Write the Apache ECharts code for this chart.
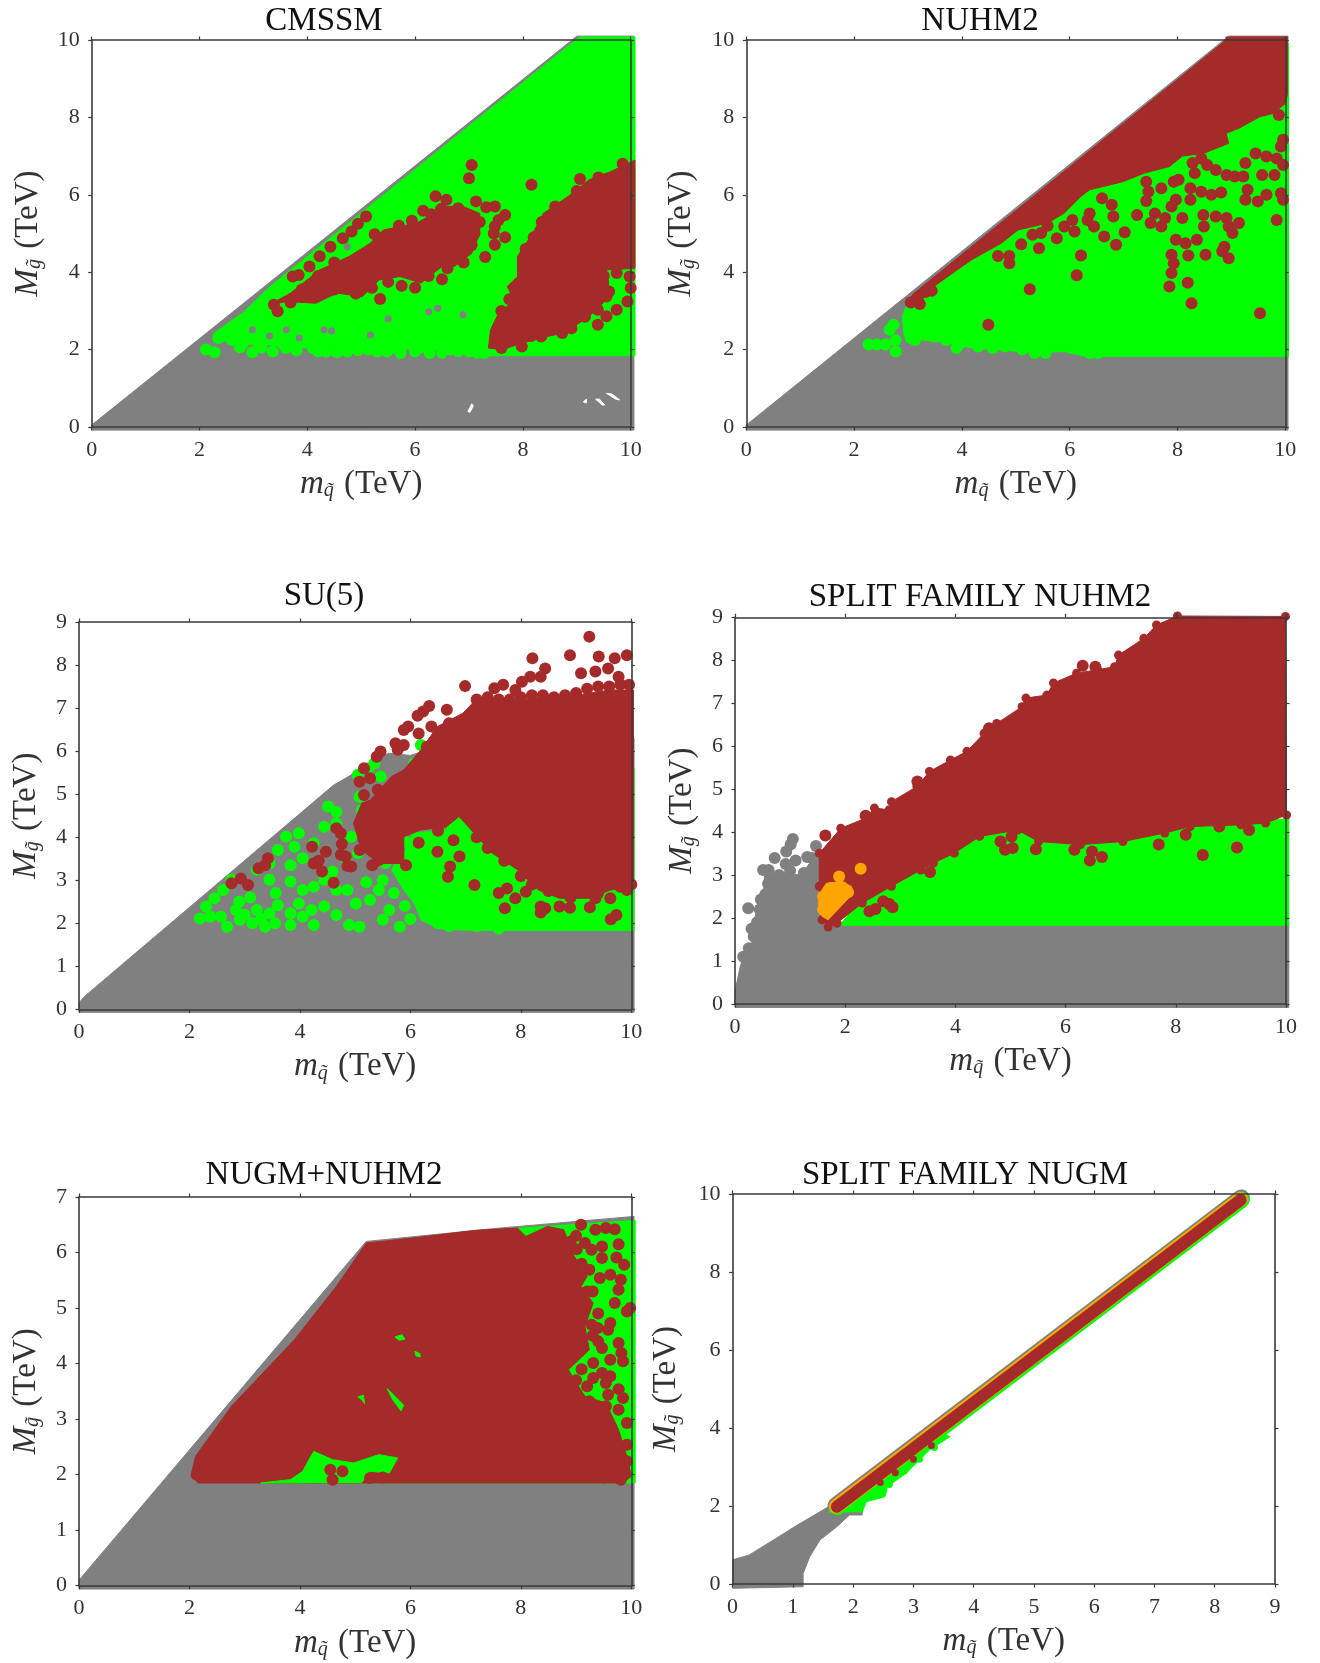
<!DOCTYPE html>
<html><head><meta charset="utf-8">
<style>html,body{margin:0;padding:0;background:#fff}#c{width:1320px;height:1663px}</style>
<script src="https://cdn.jsdelivr.net/npm/echarts@6/dist/echarts.min.js"></script></head>
<body><div id="c"></div>
<script>
const GRAY='#808080',GREEN='#00ff00',BROWN='#a52a2a',ORANGE='#ffa500',WHITE='#ffffff';
const titles=['CMSSM','NUHM2','SU(5)','SPLIT FAMILY NUHM2','NUGM+NUHM2','SPLIT FAMILY NUGM'];

// ---- CMSSM ----
const cmssmGray=[[0,-0.08],[0,0.05],[9,10.1],[10.06,10.1],[10.06,-0.08]];
const cmssmGreen=[[9.05,10.08],[10.08,10.08],[10.08,1.84],[7.3,1.84],[7,1.92],[6.5,1.98],[6,2],[5,2],[4.6,2.02],[3.7,2.05],[3.3,2.12],[2.75,2.15],[2.4,2.25],[2.25,2.4],[2.83,2.98],[3.3,3.62]];
const cmssmGreenDots=[[2.12,2],[2.28,1.93],[2.75,2.06],[2.98,1.93],[3.36,1.95],[3.6,2.04],[4.1,2.04],[4.35,1.95],[4.55,1.93],[4.74,1.95],[4.94,1.98],[5.13,2],[5.48,1.95],[5.73,1.91],[6.27,1.91],[6.8,1.95],[7.28,1.91],[2.4,2.35],[2.65,2.6],[3.1,2.15],[2.9,2.35],[2.35,2.3],[2.6,2.25],[2.8,2.15],[3.15,2.05],[3.55,2.15],[3.8,1.98],[4.2,1.95],[4.9,2.1],[5.3,1.95],[5.6,2.05],[6,1.95],[6.1,2.05],[6.5,1.92],[6.65,2],[7,1.95],[7.15,1.92]];
const cmssmGrayFlecks=[[4.31,2.51],[4.45,2.48],[6.42,3.07],[6.25,2.98],[5.17,2.38],[6.89,2.9],[4.74,4.66],[2.98,2.51],[3.61,2.51],[3.3,2.35],[5.5,2.8],[3.85,2.3]];
const cmssmBrownLeft=[[3.3,3.16],[3.69,3.46],[4.23,4.06],[4.78,4.41],[5.17,4.75],[5.41,5.09],[6.03,5.27],[6.58,5.7],[6.89,5.7],[7.2,5.52],[7.2,5],[7.05,4.49],[6.73,4.15],[6.5,4.15],[6.11,3.72],[5.72,3.89],[5.33,3.8],[5.02,3.37],[4.55,3.46],[4.16,3.2],[3.61,3.24]];
const cmssmBrownRight=[[10.08,6.9],[9.63,6.6],[9.23,6.39],[8.84,5.96],[8.38,5.52],[8.18,5],[7.9,4.41],[7.9,3.89],[7.71,3.63],[7.83,3.29],[7.52,2.86],[7.4,2.51],[7.36,2.04],[7.63,2],[7.98,2.17],[8.45,2.34],[8.77,2.43],[9.23,2.86],[9.55,3.29],[9.59,3.72],[9.55,4.06],[10.08,4.1]];
const cmssmBrownDots=[[7.05,6.77],[7,6.43],[6.38,5.96],[6.58,5.87],[6.15,5.59],[6.48,5.63],[6.33,5.4],[5.94,5.33],[5.09,5.44],[4.94,5.25],[4.82,5.05],[4.66,4.88],[5.25,4.98],[4.43,4.66],[4.23,4.41],[4.04,4.15],[3.84,3.93],[3.73,3.89],[3.38,3.16],[3.45,2.99],[3.69,3.22],[5.35,3.31],[6.5,3.82],[7.3,4.39],[7.48,4.71],[7.67,4.9],[7.46,5],[7.48,5.18],[7.55,5.35],[7.67,5.48],[7.48,5.7],[7.32,5.68],[7.13,5.83],[8.16,6.26],[9.06,6.41],[7.98,2.08],[7.6,2.04],[9.39,2.64],[9.74,3.03],[9.94,3.24],[10,3.59],[9.55,3.37],[8.73,2.43],[8.34,2.34],[9.55,2.86],[9.39,3.03],[9.74,3.98],[9.98,3.89],[9.85,6.8],[9.4,6.45],[9,6.1],[8.6,5.7],[8.35,5.3],[8.2,4.9],[8.05,4.6],[7.75,3.3],[7.6,3],[7.7,2.6],[7.55,2.3],[8.15,2.35],[8.45,2.5],[8.9,2.55],[9.15,2.85],[9.35,3.2],[9.6,3.5],[9.5,3.9],[9.7,4.2],[4.5,3.55],[4.9,3.45],[5.2,3.6],[5.5,3.75],[5.75,3.65],[6,3.6],[6.25,3.9],[6.6,4.1],[6.9,4.25],[7.05,4.7],[7.1,5],[7.2,5.3],[5.7,5.2],[6.3,5.5],[6.8,5.65],[3.9,3.55],[4.2,3.9],[4.5,4.25]];
const cmssmHoleA=[[6.98,0.4],[7.05,0.6],[7.08,0.55],[7.02,0.38]];
const cmssmHoleB=[[9.55,0.87],[9.72,0.72],[9.8,0.7],[9.65,0.85]];
const cmssmHoleC=[[9.35,0.72],[9.47,0.57],[9.52,0.57],[9.42,0.72]];
const cmssmHoleD=[[9.12,0.65],[9.18,0.72],[9.18,0.62]];

// ---- NUHM2 ----
const nuhmGray=[[0,-0.08],[0,0.05],[8.95,10.1],[10.05,10.1],[10.05,-0.08]];
const nuhmGreen=[[3,3.24],[8.9,9.9],[10.06,9.9],[10.06,1.82],[6.3,1.82],[5.9,1.95],[5.3,1.92],[4.65,2],[4.18,2.04],[3.79,2.17],[3.24,2.25],[2.93,2.34],[2.89,2.86]];
const nuhmGreenDots=[[2.27,2.13],[2.42,2.13],[2.58,2.13],[2.77,1.95],[2.77,2.25],[2.66,2.51],[2.73,2.64],[3.05,2.3],[3.13,2.25],[3.32,2.38],[3.48,2.34],[3.71,2.25],[3.9,2.04],[3.98,2.17],[4.3,2.08],[4.57,2.04],[4.8,2.08],[5.12,2],[5.35,1.91],[5.55,1.91],[6.02,2.04],[6.37,1.91],[6.52,1.91]];
const nuhmBrown=[[8.9,10.08],[10.04,10.08],[10.04,8.6],[10,8.36],[9.77,8.1],[9.53,8.02],[9.14,7.72],[8.9,7.59],[8.95,7.33],[8.48,7.07],[8.09,7],[7.85,6.73],[7.38,6.56],[6.99,6.34],[6.37,6.13],[6.21,5.96],[5.9,5.53],[5.59,5.27],[5.04,5.09],[4.73,4.75],[4.18,4.32],[3.87,4.02],[3.48,3.63],[3.24,3.46],[3,3.24],[3.1,3.44],[8.9,10]];
const nuhmBrownDots=[[3.05,3.22],[3.18,3.33],[3.22,3.18],[3.32,3.49],[3.44,3.52],[4.67,4.42],[4.88,4.42],[4.88,4.23],[5.1,4.72],[5.26,3.56],[4.49,2.64],[6.21,4.43],[6.13,3.92],[5.76,4.88],[5.43,4.62],[5.31,4.97],[5.47,5.01],[5.59,5.2],[5.9,5.18],[6.05,5.35],[6.09,5.05],[6.45,5.18],[6.37,5.52],[6.33,5.35],[6.64,4.92],[6.81,5.44],[6.86,4.71],[7.02,5.03],[6.78,5.74],[6.6,5.91],[7.25,5.48],[7.5,5.27],[7.58,5.52],[7.42,5.84],[7.46,6.08],[7.42,6.34],[7.7,6.17],[7.89,5.7],[7.7,5.18],[7.77,5.4],[7.97,5.87],[8.24,5.87],[8.09,5.4],[7.97,4.84],[8.15,4.75],[8.36,4.84],[8.49,5.18],[8.48,5.48],[8.71,5.44],[8.81,6.06],[8.63,6],[8.44,6.08],[8.24,6.17],[7.93,6.34],[8.02,6.39],[8.32,6.56],[8.44,6.94],[8.28,6.82],[8.55,6.77],[8.71,6.64],[8.91,6.51],[9.06,6.47],[9.22,6.47],[9.26,6.82],[9.45,7.07],[9.65,6.99],[9.84,6.94],[9.96,6.77],[9.8,6.51],[9.57,6.51],[9.3,6.13],[9.26,5.87],[9.49,5.83],[9.65,6],[9.92,6.04],[9.96,5.87],[9.84,5.35],[8.91,5.4],[8.95,5.18],[9.14,5.27],[9.02,5.01],[8.87,4.66],[8.83,4.54],[8.95,4.36],[8.52,4.45],[8.2,4.43],[7.89,4.45],[7.93,4.23],[7.89,3.98],[7.85,3.63],[8.19,3.73],[8.26,3.2],[9.53,2.94],[9.88,8.06],[9.92,7.25],[9.96,7.42]];

// ---- SU(5) ----
const su5Gray=[[0,-0.07],[0,0.15],[0.1,0.3],[4.6,5.2],[5,5.5],[5.6,5.95],[6,5.9],[7,6.3],[10.05,6.3],[10.05,-0.07]];
const su5Green=[[10.05,1.83],[7.6,1.83],[6.95,1.84],[6.49,1.88],[6.19,2.08],[6.07,2.46],[5.88,2.77],[5.66,3.24],[5.88,3.63],[6.04,4.09],[6.65,4.17],[6.8,4.63],[7.1,4.55],[8,5],[10.05,5.6]];
const su5GreenDots=[[2.19,2.11],[2.38,2.15],[2.3,2.39],[2.45,2.58],[2.61,2.77],[2.76,3.01],[2.68,1.92],[2.57,2.15],[2.84,2.31],[2.91,2.08],[3.14,2],[3.37,1.92],[3.22,2.31],[3.45,2.23],[3.6,2.42],[3.83,1.96],[4.05,2.15],[4.25,1.96],[3.83,2.23],[3.98,2.46],[4.21,2.31],[4.44,2.39],[4.66,2.19],[4.89,1.96],[5.08,1.92],[5.01,2.46],[5.27,2.54],[5.5,2.08],[5.62,2.31],[5.81,1.92],[5.43,2.77],[3.56,2.7],[3.45,3.01],[3.22,3.24],[3.45,3.39],[3.6,3.7],[3.75,4.01],[3.98,4.09],[3.9,3.78],[3.83,3.35],[3.83,2.97],[4.05,2.77],[4.25,2.85],[4.44,3.01],[4.66,2.77],[4.86,2.77],[4.05,3.51],[4.25,3.86],[4.44,4.24],[4.51,4.71],[4.66,4.59],[4.66,4.32],[4.93,4.01],[5.05,3.63],[4.86,3.39],[4.59,3.2],[5.12,4.63],[5.08,4.94],[5.05,5.45],[5.24,5.6],[5.35,5.72],[5.46,5.41],[6.19,6.14],[6.07,5.72],[5.66,4.17],[2.9,2.5],[3.1,2.6],[3.3,2.1],[3,2.2],[3.55,2],[5.5,3],[5.7,2.7],[5.9,2.4],[6,2.1],[6.1,2.8],[5.8,3.3],[5.9,3.9],[6.3,2.2],[6.5,2],[6.7,1.93],[7.2,1.93],[7.6,1.88],[5.55,3.4],[5.2,2.95]];
const su5Brown=[[5.88,5.56],[6.19,6.03],[6.49,6.57],[6.95,6.88],[7.18,7.19],[7.94,7.19],[8.86,7.27],[9.62,7.42],[10.04,7.42],[10.04,2.85],[9.62,2.77],[9.24,2.58],[8.7,2.58],[8.32,2.77],[7.94,3.24],[7.48,3.63],[7.1,4.17],[6.88,4.48],[6.65,4.24],[6.19,4.17],[5.88,4.01],[5.88,3.39],[5.43,3.39],[5.12,3.7],[4.97,4.32],[5.12,4.79],[5.27,4.86],[5.66,5.41]];
const su5BrownDots=[[9.24,8.66],[8.21,8.16],[8.89,8.23],[9.41,8.2],[9.92,8.23],[9.7,8.16],[9.58,7.92],[9.35,7.85],[9.09,7.81],[8.44,7.92],[8.36,7.73],[8.17,7.73],[8.02,7.61],[7.9,7.42],[7.68,7.54],[7.52,7.46],[6.99,7.51],[9.77,7.73],[9.96,7.54],[6.34,7.05],[6.23,6.92],[6.13,6.82],[6.66,6.96],[6.38,6.57],[5.96,6.57],[5.88,6.49],[6.15,6.41],[5.73,6.18],[5.88,6.14],[5.77,6.03],[5.39,5.87],[5.46,5.99],[5.16,5.6],[5.08,5.29],[5.27,5.37],[5.41,5.1],[5.16,4.98],[2.76,2.93],[2.93,3.04],[3.06,2.89],[3.25,3.28],[3.37,3.35],[3.42,3.51],[4.22,3.78],[4.25,3.39],[4.34,3.45],[4.4,3.2],[4.61,2.94],[4.47,3.66],[4.66,4.21],[4.74,4.09],[4.76,3.84],[4.74,3.59],[4.83,3.55],[4.86,3.33],[4.93,3.32],[5.08,3.7],[5.31,3.35],[5.43,3.47],[5.92,3.35],[6.15,3.87],[6.49,3.66],[6.78,3.93],[6.72,3.32],[6.68,3.08],[6.89,3.55],[7.16,2.89],[7.6,2.7],[7.75,2.81],[8.09,2.73],[7.9,2.58],[7.71,2.35],[8.36,2.39],[8.44,2.35],[8.36,2.25],[8.7,2.39],[8.89,2.36],[9.25,2.37],[9.35,2.58],[9.62,2.58],[9.73,2.19],[9.63,2.09],[9.92,2.77],[7.2,7.2],[7.4,7.25],[7.6,7.2],[7.8,7.2],[8,7.25],[8.2,7.3],[8.4,7.3],[8.6,7.25],[8.8,7.3],[9,7.35],[9.2,7.45],[9.4,7.5],[9.6,7.5],[9.8,7.55],[6.7,6.65],[6.5,6.4],[6.3,6.1],[5.3,4.6],[5.5,4.3],[5.2,4.2],[5.15,3.95],[5.45,3.65],[5.7,3.55],[5.75,3.85],[6.15,4.3],[6.5,4.15],[7.2,4],[7.4,3.75],[7.7,3.45],[8,3.1],[8.2,2.9],[8.5,2.75],[8.9,2.6],[9.4,2.7],[9.8,2.85],[10,2.9]];

// ---- SPLIT FAMILY NUHM2 ----
const splitGray=[[0,-0.08],[0,0.3],[0.1,0.9],[0.17,1.15],[0.3,1.35],[0.33,1.85],[0.42,2.3],[0.5,2.6],[0.58,2.95],[0.9,3.05],[1.2,3],[1.45,3.45],[1.6,3.5],[1.6,1.9],[10.05,1.9],[10.05,-0.08]];
const splitGrayDots=[[0.24,2.23],[0.34,1.57],[0.51,3.12],[0.61,3.12],[0.72,3.4],[0.92,3.26],[0.93,3.55],[1.01,3.71],[1.05,3.84],[1.1,3.34],[1.31,3.42],[1.47,3.68],[0.47,2.43],[0.63,2.93],[0.15,1.1],[0.25,1.3],[0.3,1.75],[0.4,1.9],[0.45,2.2],[0.55,2.55],[0.6,2.8],[0.8,3],[1,3.1],[1.25,3.05],[1.4,3.4]];
const splitGreen=[[1.9,1.83],[10.05,1.83],[10.05,4.3],[4.5,4.3],[3,2.9],[2.2,2.3]];
const splitBrown=[[1.53,3.51],[1.92,4.09],[2.38,4.33],[2.53,4.56],[2.8,4.52],[2.84,4.71],[3.3,5.06],[3.53,5.41],[3.91,5.68],[4.21,5.88],[4.52,6.3],[4.75,6.53],[5.21,6.92],[5.28,7.12],[5.66,7.19],[5.78,7.47],[6.2,7.7],[6.58,7.78],[6.89,7.85],[6.96,8.12],[7.42,8.51],[7.65,8.82],[8.03,9.03],[9.99,9.02],[10.01,4.4],[9.63,4.21],[9.18,4.17],[8.26,4.13],[7.8,3.98],[7.04,3.78],[6.27,3.71],[5.51,3.78],[5.13,4.05],[4.44,3.9],[3.98,3.51],[3.6,3.28],[3.37,3.12],[2.84,2.74],[2.31,2.35],[1.85,1.88],[1.69,1.79],[1.58,1.96],[1.53,2.74]];
const splitBrownDots=[[1.64,3.92],[2.37,4.38],[6.31,7.87],[6.54,7.85],[3.31,5.18],[4.61,6.42],[3.54,3.07],[2.44,2.16],[2.55,2.21],[2.69,2.39],[2.8,2.33],[2.86,2.25],[4.82,3.78],[4.9,3.59],[5.04,3.63],[5.02,3.9],[5.46,3.6],[6.16,3.59],[6.48,3.55],[6.44,3.34],[6.66,3.42],[7.69,3.71],[8.49,3.47],[9.11,3.64],[8.79,4.13],[9.33,4.05],[8.18,3.94]];
const splitOrange=[[1.58,2.04],[1.51,2.35],[1.58,2.66],[1.66,2.81],[1.92,2.85],[2.11,2.74],[2.15,2.58],[1.92,2.27],[1.69,1.96]];
const splitOrangeDots=[[2.28,3.15],[1.89,2.97],[1.6,2.2],[1.6,2.5],[1.75,2.7],[1.95,2.72],[2.05,2.6]];

// ---- NUGM+NUHM2 ----
const nugmGray=[[0,-0.06],[0,0.1],[5.2,6.2],[7.5,6.43],[10.05,6.65],[10.05,-0.06]];
const nugmGreen=[[3.3,1.85],[10.07,1.85],[10.07,6.58],[8,6.44],[6,6.2]];
const nugmBrown=[[2.15,1.85],[2.04,2.03],[2.11,2.33],[2.76,3.23],[3.9,4.43],[4.66,5.39],[5.2,6.17],[6.04,6.26],[7.18,6.4],[7.94,6.44],[8.09,6.29],[8.48,6.47],[8.78,6.41],[8.93,5.99],[9.2,5.57],[9.09,5.39],[9.31,5.09],[9.16,4.67],[9.24,4.25],[8.86,3.89],[9.16,3.41],[9.54,3.29],[9.77,2.81],[9.92,2.33],[10,1.97],[9.85,1.85]];
const nugmPatchLow=[[3.29,1.85],[3.83,1.91],[4.05,2.06],[4.25,2.42],[4.59,2.27],[4.97,2.21],[5.43,2.36],[5.77,2.3],[5.62,2.03],[5.27,2.06],[5.12,1.86]];
const nugmPatchA=[[5.72,4.48],[5.85,4.52],[5.9,4.44],[5.8,4.42]];
const nugmPatchB=[[6.08,4.22],[6.17,4.18],[6.18,4.12],[6.1,4.14]];
const nugmPatchC=[[5.58,3.55],[5.88,3.25],[5.83,3.15],[5.68,3.35]];
const nugmPatchD=[[5.05,3.4],[5.15,3.43],[5.17,3.28],[5.12,3.35]];
const nugmPatchE=[[9.05,4],[9.2,4.02],[9.25,3.65],[9.1,3.7]];
const nugmBrownDots=[[2.13,2],[2.2,2.2],[4.55,2.09],[4.59,1.91],[4.77,2.06],[5.27,1.94],[5.5,1.95],[9.09,6.5],[9.35,6.41],[9.54,6.44],[9.7,6.42],[9.01,6.06],[9.16,6.17],[9.28,6.05],[9.47,6.11],[9.77,6.15],[9.47,5.9],[9.73,5.91],[9.87,5.78],[9.24,5.69],[9.43,5.54],[9.62,5.6],[9.81,5.51],[9.77,5.33],[9.7,5.09],[9.92,4.94],[9.98,5],[9.28,4.7],[9.39,4.64],[9.62,4.73],[9.58,4.61],[9.77,4.37],[9.82,4.19],[9.47,4.28],[9.62,4.07],[9.85,4.04],[9.31,4.01],[9.47,3.83],[9.62,3.77],[9.54,3.65],[9.77,3.54],[9.31,3.74],[9.2,3.59],[9.58,3.44],[9.85,3.38],[9.24,3.32],[9.54,3.23],[9.77,3.17],[9.92,2.93],[9.62,2.87],[9.92,2.54],[9.92,2.24],[9.01,3.17],[9.81,1.91],[9,6.3],[8.9,6.2],[9.1,5.8],[9.2,5.3],[9.3,5.3],[9.4,4.9],[9.3,4.5],[9.4,4.4],[9.1,3.9],[9,3.7],[9.3,3.2],[9.5,3],[9.6,2.6],[9.75,2.5],[9.7,2.1],[9.5,1.95],[9.85,2]];

// ---- SPLIT FAMILY NUGM ----
const sfnGray=[[0,0.62],[0.27,0.74],[0.68,1.13],[1.03,1.47],[1.59,1.98],[2.15,2.3],[2.15,1.77],[1.94,1.77],[1.73,1.47],[1.45,1.13],[1.28,0.7],[1.17,0.27],[1.17,-0.07],[0,-0.11]];
const sfnGrayBand=[[1.72,2.01],[8.44,9.89]];
const sfnGreenBand=[[1.74,1.97],[8.44,9.85]];
const sfnOrangeBand=[[1.72,1.99],[8.43,9.87]];
const sfnBrownBand=[[1.73,1.98],[8.43,9.85]];
const sfnGreenBulge=[[1.59,1.85],[2.15,1.85],[2.22,2.11],[2.53,2.24],[2.57,2.5],[2.88,2.84],[3.27,3.44],[3.61,3.78],[3.4,3.9],[2,2.4]];
const sfnGreenFlecks=[[2.3,2.35],[2.6,2.55],[2.85,2.9],[3.1,3.2],[3.35,3.5]];
const sfnBrownFlecks=[[2.45,2.6],[2.7,2.85],[3,3.2],[3.3,3.55]];

const panels=[
 {xMax:10,xStep:2,yMax:10,yStep:2,grid:[91.7,40,539,387],yGap:47,
  layers:[['p',cmssmGray,GRAY],['p',cmssmHoleA,WHITE],['p',cmssmHoleB,WHITE],['p',cmssmHoleC,WHITE],['p',cmssmHoleD,WHITE],['p',cmssmGreen,GREEN],['d',cmssmGreenDots,GREEN],['f',cmssmGrayFlecks,GRAY],['p',cmssmBrownLeft,BROWN],['p',cmssmBrownRight,BROWN],['d',cmssmBrownDots,BROWN]]},
 {xMax:10,xStep:2,yMax:10,yStep:2,grid:[746.3,40,539,387],yGap:48,
  layers:[['p',nuhmGray,GRAY],['p',nuhmGreen,GREEN],['d',nuhmGreenDots,GREEN],['p',nuhmBrown,BROWN],['d',nuhmBrownDots,BROWN]]},
 {xMax:10,xStep:2,yMax:9,yStep:1,grid:[79,622,552.3,387.3],yGap:36,
  layers:[['p',su5Gray,GRAY],['p',su5Green,GREEN],['d',su5GreenDots,GREEN],['p',su5Brown,BROWN],['d',su5BrownDots,BROWN]]},
 {xMax:10,xStep:2,yMax:9,yStep:1,grid:[735,617.3,551,386.7],yGap:36,
  layers:[['p',splitGray,GRAY],['d',splitGrayDots,GRAY],['p',splitGreen,GREEN],['p',splitBrown,BROWN],['pv',splitBrown,BROWN],['d',splitBrownDots,BROWN],['p',splitOrange,ORANGE],['d',splitOrangeDots,ORANGE]]},
 {xMax:10,xStep:2,yMax:7,yStep:1,grid:[79,1197,552.3,388.7],yGap:36,
  layers:[['p',nugmGray,GRAY],['p',nugmGreen,GREEN],['p',nugmBrown,BROWN],['p',nugmPatchLow,GREEN],['p',nugmPatchA,GREEN],['p',nugmPatchB,GREEN],['p',nugmPatchC,GREEN],['p',nugmPatchD,GREEN],['p',nugmPatchE,GREEN],['d',nugmBrownDots,BROWN]]},
 {xMax:9,xStep:1,yMax:10,yStep:2,grid:[732.6,1194,542.4,390],yGap:50,
  layers:[['p',sfnGray,GRAY],['l',sfnGrayBand,GRAY,17.5],['p',sfnGreenBulge,GREEN],['f',sfnGreenFlecks,GREEN],['l',sfnGreenBand,GREEN,16.5],['l',sfnOrangeBand,ORANGE,14.5],['l',sfnBrownBand,BROWN,12],['f',sfnBrownFlecks,BROWN]]}
];
const titlePos=[[324,21],[980,21],[324,596],[980,597],[324,1175],[965,1175]];

const FONT='Liberation Serif',INK='#333333',AX='#3a3a3a';
const nameStyle={color:INK,fontFamily:FONT,fontSize:33,rich:{
  i:{fontFamily:FONT,fontSize:33,fontStyle:'italic',color:INK},
  s:{fontFamily:FONT,fontSize:20,fontStyle:'italic',color:INK,verticalAlign:'bottom',padding:[12,2,0,0]},
  t:{fontFamily:FONT,fontSize:33,color:INK}}};
const line={show:true,onZero:false,lineStyle:{color:AX,width:1.6}};
const tick={show:true,inside:false,length:3.5,lineStyle:{color:AX,width:1.2}};
const lbl={color:INK,fontFamily:FONT,fontSize:22,margin:12,showMinLabel:true,showMaxLabel:true,hideOverlap:false};

const grid=[],xAxis=[],yAxis=[],series=[];
panels.forEach((p,i)=>{
  grid.push({left:p.grid[0],top:p.grid[1],width:p.grid[2],height:p.grid[3],containLabel:false});
  const xs={type:'value',min:0,max:p.xMax,interval:p.xStep,gridIndex:i,splitLine:{show:false},axisLine:line,axisTick:tick,z:10};
  const ys={type:'value',min:0,max:p.yMax,interval:p.yStep,gridIndex:i,splitLine:{show:false},axisLine:line,axisTick:tick,z:10};
  xAxis.push(Object.assign({},xs,{position:'bottom',axisLabel:lbl,name:'{i|m}{s|q̃} {t|(TeV)}',nameLocation:'middle',nameGap:41,nameTextStyle:nameStyle}));
  xAxis.push(Object.assign({},xs,{position:'top',axisLabel:{show:false}}));
  yAxis.push(Object.assign({},ys,{position:'left',axisLabel:lbl,name:'{i|M}{s|g̃} {t|(TeV)}',nameLocation:'middle',nameRotate:90,nameGap:p.yGap,nameTextStyle:nameStyle}));
  yAxis.push(Object.assign({},ys,{position:'right',axisLabel:{show:false}}));
  const xi=i*2,yi=i*2;
  p.layers.forEach((l,k)=>{
    const [kind,arr,color,w]=l;
    const base={xAxisIndex:xi,yAxisIndex:yi,silent:true,animation:false,z:2+k*0.01};
    if(kind==='p'){
      series.push(Object.assign(base,{type:'custom',data:arr,clip:false,
        renderItem:(params,api)=>{
          if(params.dataIndex!==0) return;
          return {type:'polygon',shape:{points:arr.map(v=>api.coord(v))},style:{fill:color,stroke:color,lineWidth:1}};
        }}));
    }else if(kind==='l'){
      series.push(Object.assign(base,{type:'line',data:arr,symbol:'none',clip:false,lineStyle:{color:color,width:w,cap:'round'}}));
    }else{
      const size=kind==='f'?7:(kind==='pv'?9:12);
      series.push(Object.assign(base,{type:'scatter',data:arr,clip:false,symbolSize:size,itemStyle:{color:color,opacity:1}}));
    }
  });
});

const chart=echarts.init(document.getElementById('c'),null,{renderer:'canvas'});
chart.setOption({
  backgroundColor:'#fff',animation:false,tooltip:{show:false},legend:{show:false},
  title:titles.map((t,i)=>({text:t,left:titlePos[i][0],top:titlePos[i][1],textAlign:'center',textVerticalAlign:'middle',padding:0,
    textStyle:{fontFamily:FONT,fontSize:33,fontWeight:'normal',color:'#111'}})),
  grid,xAxis,yAxis,series
});
</script></body></html>
